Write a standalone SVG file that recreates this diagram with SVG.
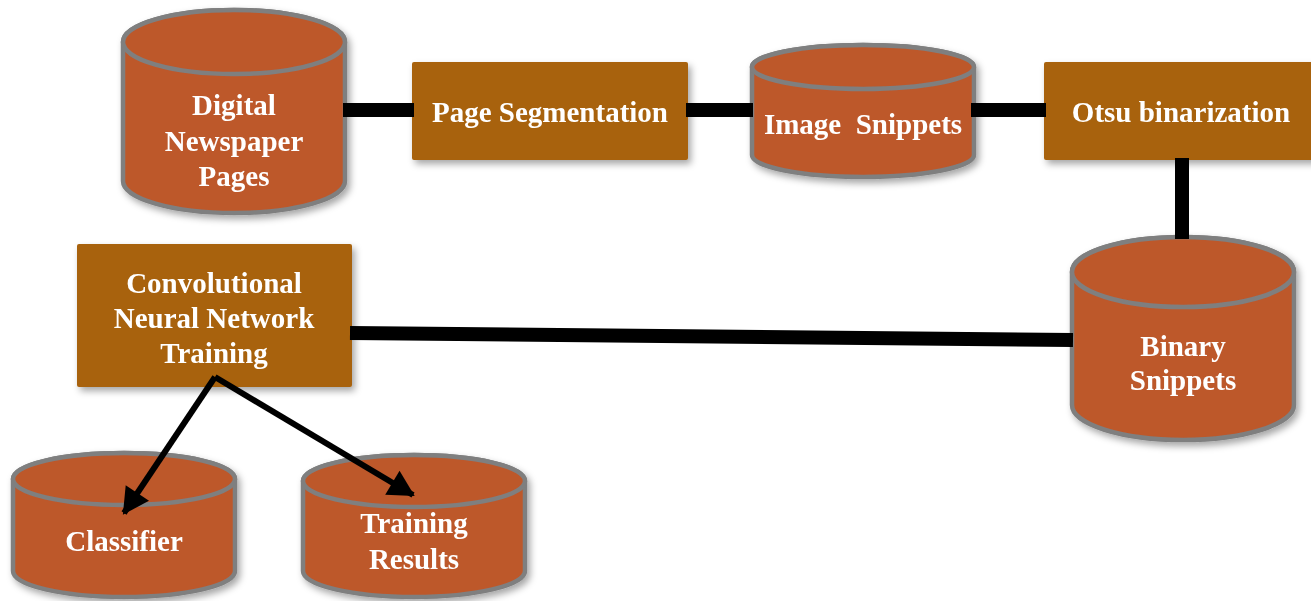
<svg xmlns="http://www.w3.org/2000/svg" width="1311" height="601" viewBox="0 0 1311 601">
<style>
.cyl{fill:#BD582C;stroke:#7F7F7F;stroke-width:4.5}
.box{fill:#A8620D}
.t{font-family:"Liberation Serif","Times New Roman",serif;font-weight:bold;font-size:29px;fill:#FFFFFF;text-anchor:middle}
.bar{stroke:#000;stroke-width:14;fill:none}
.arr{stroke:#000;stroke-width:6;fill:none;marker-end:url(#ah)}
</style>
<defs>
<filter id="sh" x="-10%" y="-10%" width="125%" height="130%">
<feDropShadow dx="3" dy="4" stdDeviation="3.5" flood-color="#000" flood-opacity="0.35"/>
</filter>
<marker id="ah" markerUnits="userSpaceOnUse" markerWidth="26" markerHeight="30" refX="24" refY="15" orient="auto" overflow="visible">
<path d="M0,1 L26,15 L0,29 Z" fill="#000"/>
</marker>
</defs>
<rect width="1311" height="601" fill="#FFFFFF"/>
<g id="digital-newspaper-pages" filter="url(#sh)">
<path class="cyl" d="M123,42 L123,181 A111,32 0 0 0 345,181 L345,42 A111,32 0 0 0 123,42 Z"/>
<ellipse class="cyl" cx="234" cy="42" rx="111" ry="32"/>
<text class="t" x="234" y="115">Digital</text>
<text class="t" x="234" y="151">Newspaper</text>
<text class="t" x="234" y="186">Pages</text>
</g>
<g id="page-segmentation" filter="url(#sh)">
<rect class="box" x="412" y="62" width="276" height="98" rx="2"/>
<text class="t" x="550" y="122">Page Segmentation</text>
</g>
<g id="image-snippets" filter="url(#sh)">
<path class="cyl" d="M752,67 L752,155 A111,22 0 0 0 974,155 L974,67 A111,22 0 0 0 752,67 Z"/>
<ellipse class="cyl" cx="863" cy="67" rx="111" ry="22"/>
<text class="t" x="863" y="134" xml:space="preserve">Image  Snippets</text>
</g>
<g id="otsu-binarization" filter="url(#sh)">
<rect class="box" x="1044" y="62" width="280" height="98" rx="2"/>
<text class="t" x="1181" y="122">Otsu binarization</text>
</g>
<g id="binary-snippets" filter="url(#sh)">
<path class="cyl" d="M1072,272 L1072,405 A111,35 0 0 0 1294,405 L1294,272 A111,35 0 0 0 1072,272 Z"/>
<ellipse class="cyl" cx="1183" cy="272" rx="111" ry="35"/>
<text class="t" x="1183" y="356">Binary</text>
<text class="t" x="1183" y="390">Snippets</text>
</g>
<g id="cnn-training" filter="url(#sh)">
<rect class="box" x="77" y="244" width="275" height="143" rx="2"/>
<text class="t" x="214" y="293">Convolutional</text>
<text class="t" x="214" y="328">Neural Network</text>
<text class="t" x="214" y="363">Training</text>
</g>
<g id="classifier" filter="url(#sh)">
<path class="cyl" d="M13,479 L13,571 A111,26 0 0 0 235,571 L235,479 A111,26 0 0 0 13,479 Z"/>
<ellipse class="cyl" cx="124" cy="479" rx="111" ry="26"/>
<text class="t" x="124" y="551">Classifier</text>
</g>
<g id="training-results" filter="url(#sh)">
<path class="cyl" d="M303,481 L303,571 A111,26 0 0 0 525,571 L525,481 A111,26 0 0 0 303,481 Z"/>
<ellipse class="cyl" cx="414" cy="481" rx="111" ry="26"/>
<text class="t" x="414" y="533">Training</text>
<text class="t" x="414" y="569">Results</text>
</g>
<g id="connectors">
<line class="bar" x1="343" y1="110" x2="414" y2="110"/>
<line class="bar" x1="686" y1="110" x2="753" y2="110"/>
<line class="bar" x1="971" y1="110" x2="1046" y2="110"/>
<line class="bar" x1="1182" y1="158" x2="1182" y2="239"/>
<line class="bar" x1="350" y1="333" x2="1073" y2="340"/>
<line class="arr" x1="215" y1="377" x2="124" y2="513"/>
<line class="arr" x1="215" y1="377" x2="413" y2="495"/>
</g>
</svg>
